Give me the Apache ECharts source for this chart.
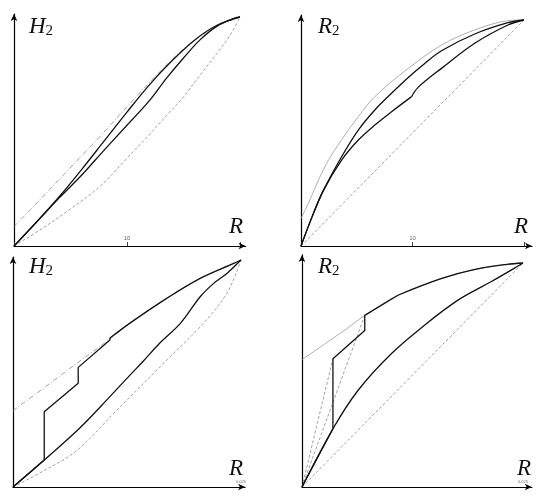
<!DOCTYPE html>
<html><head><meta charset="utf-8">
<script src="https://cdn.jsdelivr.net/npm/echarts@6/dist/echarts.min.js"></script>
<style>html,body{margin:0;padding:0;background:#fff}#c{width:550px;height:501px}</style>
</head><body><div id="c"></div>
<script>
// ---- Panel 1 (H2, top-left) ----
const p1UpperDashed = [[0,0.085],[0.086,0.172],[0.233,0.325],[0.38,0.478],[0.528,0.638],[0.646,0.762],[0.764,0.872],[0.882,0.952],[1,1]];
const p1UpperSolid  = [[0,0],[0.1,0.105],[0.2,0.215],[0.3,0.335],[0.4,0.46],[0.5,0.585],[0.6,0.705],[0.7,0.81],[0.8,0.9],[0.9,0.965],[1,1]];
const p1LowerSolidA = [[0,0],[0.1,0.105],[0.2,0.21],[0.3,0.31],[0.4,0.42],[0.506,0.534]];
const p1LowerSolidB = [[0.506,0.534],[0.602,0.638],[0.675,0.733],[0.749,0.82],[0.823,0.9],[0.897,0.959],[0.97,0.993],[1,1]];
const p1LowerDashed = [[0,0],[0.115,0.07],[0.233,0.15],[0.38,0.26],[0.506,0.39],[0.602,0.49],[0.675,0.57],[0.749,0.65],[0.823,0.746],[0.897,0.84],[0.956,0.92],[1,1]];
// ---- Panel 2 (R2, top-right) ----
const p2UpperGray   = [[0,0.122],[0.033,0.189],[0.107,0.351],[0.182,0.47],[0.257,0.572],[0.331,0.661],[0.481,0.786],[0.63,0.889],[0.779,0.956],[0.928,0.997],[1,1]];
const p2UpperSolid  = [[0,0],[0.05,0.13],[0.1,0.245],[0.182,0.395],[0.257,0.513],[0.331,0.602],[0.406,0.676],[0.481,0.746],[0.555,0.808],[0.63,0.864],[0.779,0.938],[0.928,0.988],[1,1]];
const p2LowerSolidA = [[0,0],[0.05,0.13],[0.1,0.245],[0.182,0.38],[0.257,0.469],[0.331,0.535],[0.406,0.594],[0.496,0.661]];
const p2LowerSolidB = [[0.496,0.661],[0.525,0.702],[0.63,0.786],[0.779,0.897],[0.928,0.978],[1,1]];
const p2Diagonal    = [[0,0],[1,1]];
// ---- Panel 3 (H2, bottom-left) ----
const p3UpperDashed = [[0,0.336],[0.14,0.44],[0.28,0.545],[0.425,0.652],[0.513,0.722],[0.674,0.831],[0.821,0.919],[0.968,0.985],[1,1]];
const p3Steps       = [[0,0],[0.137,0.119],[0.137,0.332],[0.286,0.457],[0.286,0.527],[0.425,0.648],[0.425,0.656]];
const p3UpperTail   = [[0.425,0.656],[0.513,0.722],[0.674,0.831],[0.821,0.919],[0.968,0.985],[1,1]];
const p3LowerSolid  = [[0,0],[0.137,0.119],[0.293,0.26],[0.425,0.398],[0.513,0.493],[0.572,0.555],[0.64,0.63],[0.735,0.722],[0.821,0.838],[0.88,0.897],[0.938,0.941],[1,1]];
const p3LowerDashed = [[0,0],[0.132,0.07],[0.279,0.16],[0.455,0.338],[0.674,0.559],[0.821,0.706],[0.938,0.853],[1,1]];
// ---- Panel 4 (R2, bottom-right) ----
const p4UpperGray   = [[0,0.568],[0.105,0.64],[0.2,0.705],[0.284,0.766],[0.434,0.856],[0.629,0.93],[0.778,0.97],[0.928,0.994],[1,1]];
const p4DashedA     = [[0,0],[0.14,0.573]];
const p4DashedB     = [[0,0],[0.284,0.766]];
const p4Steps       = [[0,0],[0.14,0.26],[0.14,0.573],[0.284,0.699],[0.284,0.766],[0.434,0.856]];
const p4UpperTail   = [[0.434,0.856],[0.629,0.93],[0.778,0.97],[0.928,0.994],[1,1]];
const p4LowerSolid  = [[0,0],[0.14,0.26],[0.254,0.432],[0.404,0.595],[0.554,0.722],[0.704,0.833],[0.853,0.915],[0.958,0.975],[1,1]];
const p4Diagonal    = [[0,0],[1,1]];
// ---- tick labels / axis names ----
const topTickLabel = '10';
const bottomTickLabel = '0.025';
const yNames = ['H','R','H','R'];
const xName = 'R';

const panels = [
  {ox:14, oy:246, w:226, h:229, xmax:1.025, ymax:1.013, tick:topTickLabel, tickAt:0.5},
  {ox:301, oy:246, w:223, h:226, xmax:1.036, ymax:1.022, tick:topTickLabel, tickAt:0.5},
  {ox:13, oy:487, w:228, h:227, xmax:1.018, ymax:1.013, tick:bottomTickLabel, tickAt:1},
  {ox:302, oy:487, w:221, h:224, xmax:1.04, ymax:1.036, tick:bottomTickLabel, tickAt:1}
];

const grids = [], xAxes = [], yAxes = [], series = [], titles = [];
panels.forEach((p, i) => {
  const W = p.w * p.xmax, H = p.h * p.ymax;
  grids.push({left: p.ox, top: p.oy - H, width: W, height: H});
  const axisLine = {show:true, lineStyle:{color:'#000', width:1.2}, symbol:['none','arrow'], symbolSize:[5,7]};
  xAxes.push({type:'value', gridIndex:i, min:0, max:p.xmax, interval: p.tickAt, splitLine:{show:false}, axisLine,
    axisTick:{show:i<2, inside:true, length:4, lineStyle:{color:'#444'}},
    axisLabel:{show:true, inside:true, fontSize: i<2?6:4, color:'#666', margin: i<2?5:3, showMaxLabel:false,
      formatter: v => (Math.abs(v - p.tickAt) < 1e-6 ? p.tick : '')}});
  yAxes.push({type:'value', gridIndex:i, min:0, max:p.ymax, splitLine:{show:false}, axisLine, axisTick:{show:false}, axisLabel:{show:false}});
});

function add(i, data, kind, smooth) {
  const styles = {
    solid: {color:'#111', width:1.3, type:'solid'},
    dashed: {color:'#8a8a8a', width:0.8, type:[3,2]},
    gray: {color:'#9a9a9a', width:0.8, type:'solid'},
    dashdot: {color:'#8a8a8a', width:0.8, type:[5,2,1,2]}
  };
  series.push({type:'line', xAxisIndex:i, yAxisIndex:i, data, symbol:'none', smooth: smooth ? 0.35 : false,
    lineStyle: styles[kind], z: kind==='solid'?3:2, silent:true, animation:false});
}
add(0, p1UpperDashed, 'dashdot', true); add(0, p1LowerDashed, 'dashed', true); add(0, p1UpperSolid, 'solid', true);
add(0, p1LowerSolidA, 'solid', true); add(0, p1LowerSolidB, 'solid', true);
add(1, p2UpperGray, 'gray', true); add(1, p2Diagonal, 'dashed', false); add(1, p2UpperSolid, 'solid', true);
add(1, p2LowerSolidA, 'solid', true); add(1, p2LowerSolidB, 'solid', true);
add(2, p3UpperDashed, 'dashdot', true); add(2, p3LowerDashed, 'dashed', true); add(2, p3Steps, 'solid', false);
add(2, p3UpperTail, 'solid', true); add(2, p3LowerSolid, 'solid', true);
add(3, p4UpperGray, 'gray', true); add(3, p4DashedA, 'dashed', false); add(3, p4DashedB, 'dashed', false); add(3, p4Diagonal, 'dashed', false);
add(3, p4Steps, 'solid', false); add(3, p4UpperTail, 'solid', true); add(3, p4LowerSolid, 'solid', true);

const serif = '"Liberation Serif", "DejaVu Serif", serif';
const rich = {a:{fontFamily:serif, fontStyle:'italic', fontWeight:'normal', fontSize:23, color:'#111'},
              b:{fontFamily:serif, fontWeight:'normal', fontSize:15, color:'#111', padding:[10,0,0,0]}};
const namePos = [[29,14],[318,14],[29,254],[318,254]];
const rPos = [[229,215],[514,215],[229,457],[517,457]];
panels.forEach((p, i) => {
  titles.push({text:'{a|' + yNames[i] + '}{b|2}', left:namePos[i][0], top:namePos[i][1], padding:0, textStyle:{fontWeight:'normal', rich}});
  titles.push({text:'{a|' + xName + '}', left:rPos[i][0], top:rPos[i][1], padding:0, textStyle:{fontWeight:'normal', rich}});
});

const chart = echarts.init(document.getElementById('c'), null, {renderer:'canvas'});
chart.setOption({backgroundColor:'#fff', animation:false, title:titles, grid:grids, xAxis:xAxes, yAxis:yAxes, series});
</script></body></html>
